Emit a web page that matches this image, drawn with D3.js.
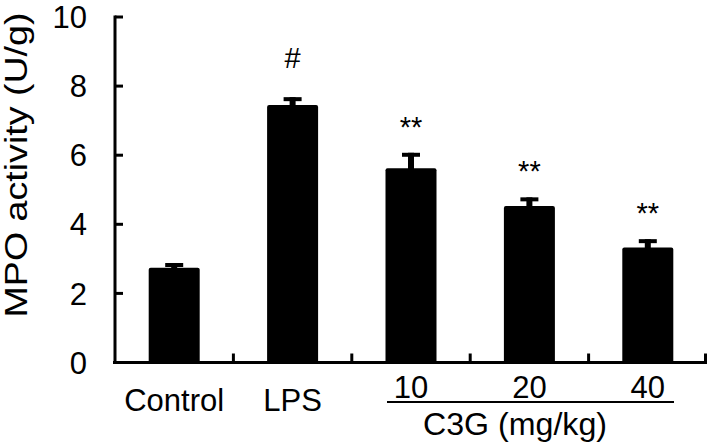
<!DOCTYPE html>
<html lang="en">
<head>
    <meta charset="UTF-8">
    <title>MPO activity</title>
    <script src="https://d3js.org/d3.v7.min.js"></script>
    <style>
        body { margin: 0; background: #fff; }
        text {
            font-family: "Liberation Sans", Arial, sans-serif;
            font-size: 31px;
            fill: #000;
        }
        .mark { font-size: 29px; }
    </style>
</head>
<body>
<div id="chart"></div>
<script>
    // data
    const groups = ['Control', 'LPS', '10', '20', '40'];
    const means = [2.74, 7.45, 5.62, 4.53, 3.33];
    const errors = [0.14, 0.23, 0.45, 0.25, 0.24];
    const marks = ['', '#', '**', '**', '**'];
    const yTicks = [0, 2, 4, 6, 8, 10];
    const doseGroups = ['10', '20', '40'];

    const width = 713, height = 445;
    const svg = d3.select("#chart").append("svg")
        .attr("width", width)
        .attr("height", height);

    const x = d3.scaleBand()
        .domain(groups)
        .range([115, 707])
        .paddingInner(0)
        .paddingOuter(0);

    const y = d3.scaleLinear()
        .domain([0, 10])
        .range([362.5, 17]);

    const barW = 51;
    const cx = g => x(g) + x.bandwidth() / 2;

    // bars
    svg.append("g").selectAll("rect")
        .data(groups)
        .enter().append("rect")
        .attr("x", d => cx(d) - barW / 2)
        .attr("y", (d, i) => y(means[i]))
        .attr("width", barW)
        .attr("height", (d, i) => y(0) - y(means[i]))
        .attr("rx", 2)
        .attr("fill", "#000");

    // error bars (upper only)
    const err = svg.append("g");
    groups.forEach((g, i) => {
        const top = y(means[i] + errors[i]);
        err.append("rect")
            .attr("x", cx(g) - 3)
            .attr("y", top)
            .attr("width", 6)
            .attr("height", y(means[i]) - top + 1)
            .attr("fill", "#000");
        err.append("rect")
            .attr("x", cx(g) - 9)
            .attr("y", top)
            .attr("width", 18)
            .attr("height", 4)
            .attr("fill", "#000");
    });

    // significance marks
    svg.append("g").selectAll("text")
        .data(groups)
        .enter().append("text")
        .attr("class", "mark")
        .attr("x", d => cx(d))
        .attr("y", (d, i) => y(means[i] + errors[i]) - (marks[i] === '#' ? 29 : 16))
        .attr("text-anchor", "middle")
        .text((d, i) => marks[i]);

    // y axis
    const yAxis = svg.append("g");
    yAxis.append("line")
        .attr("x1", 115).attr("x2", 115)
        .attr("y1", y(10) - 1.5).attr("y2", y(0) + 1.5)
        .attr("stroke", "#000").attr("stroke-width", 3);
    yAxis.selectAll(".tick")
        .data(yTicks)
        .enter().append("line")
        .attr("x1", 115).attr("x2", 123)
        .attr("y1", d => y(d)).attr("y2", d => y(d))
        .attr("stroke", "#000").attr("stroke-width", 3);
    yAxis.selectAll("text")
        .data(yTicks)
        .enter().append("text")
        .attr("x", 87)
        .attr("y", d => y(d))
        .attr("dy", "0.36em")
        .attr("text-anchor", "end")
        .text(d => d);

    // x axis
    const xAxis = svg.append("g");
    xAxis.append("line")
        .attr("x1", 113).attr("x2", 707)
        .attr("y1", y(0)).attr("y2", y(0))
        .attr("stroke", "#000").attr("stroke-width", 3);
    const bounds = groups.map(g => x(g) + x.bandwidth()).filter(v => v > 116);
    xAxis.selectAll(".tick")
        .data(bounds)
        .enter().append("line")
        .attr("x1", d => Math.min(d, 705.5)).attr("x2", d => Math.min(d, 705.5))
        .attr("y1", y(0)).attr("y2", y(0) - 9)
        .attr("stroke", "#000").attr("stroke-width", 3);

    // category labels
    xAxis.selectAll(".cat")
        .data(groups)
        .enter().append("text")
        .attr("x", d => cx(d))
        .attr("y", d => doseGroups.includes(d) ? 398 : 411)
        .attr("text-anchor", "middle")
        .text(d => d);

    // dose bracket
    xAxis.append("line")
        .attr("x1", 387).attr("x2", 674)
        .attr("y1", 402).attr("y2", 402)
        .attr("stroke", "#000").attr("stroke-width", 2);
    xAxis.append("text")
        .attr("x", 515)
        .attr("y", 435)
        .attr("text-anchor", "middle")
        .attr("textLength", 184)
        .attr("lengthAdjust", "spacingAndGlyphs")
        .text("C3G (mg/kg)");

    // y label
    svg.append("text")
        .attr("transform", "translate(27,165) rotate(-90)")
        .attr("text-anchor", "middle")
        .attr("textLength", 305)
        .attr("lengthAdjust", "spacingAndGlyphs")
        .text("MPO activity (U/g)");
</script>
</body>
</html>
